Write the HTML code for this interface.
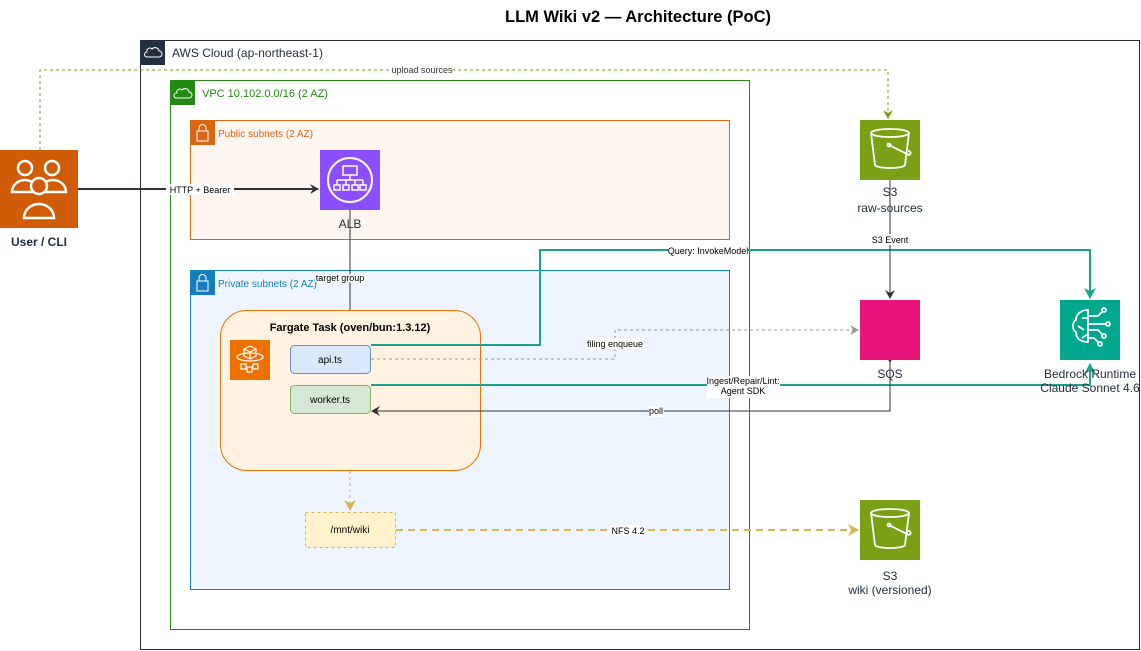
<!DOCTYPE html>
<html><head><meta charset="utf-8"><style>
body{margin:0;background:#fff}
svg{display:block;font-family:"Liberation Sans",Arial,sans-serif}
</style></head><body>
<svg width="1141" height="651" viewBox="0 0 1141 651" xmlns="http://www.w3.org/2000/svg">
<defs>
<marker id="ak" markerWidth="10" markerHeight="10" refX="8" refY="5" orient="auto" markerUnits="userSpaceOnUse"><path d="M0,0 L9,5 L0,10 L3,5Z" fill="#333"/></marker>
<marker id="at" markerWidth="12" markerHeight="12" refX="10" refY="6" orient="auto" markerUnits="userSpaceOnUse"><path d="M0,0 L11,6 L0,12 L3,6Z" fill="#1ba28f"/></marker>
<marker id="ag" markerWidth="10" markerHeight="10" refX="8" refY="5" orient="auto" markerUnits="userSpaceOnUse"><path d="M0,0 L9,5 L0,10 L3,5Z" fill="#999"/></marker>
<marker id="ao" markerWidth="10" markerHeight="10" refX="8" refY="5" orient="auto" markerUnits="userSpaceOnUse"><path d="M0,0 L9,5 L0,10 L3,5Z" fill="#7aa116"/></marker>
<marker id="ay" markerWidth="12" markerHeight="12" refX="10" refY="6" orient="auto" markerUnits="userSpaceOnUse"><path d="M0,0 L11,6 L0,12 L3,6Z" fill="#d6b656"/></marker>
</defs>
<text x="638" y="22" text-anchor="middle" font-size="16.5" font-weight="bold" fill="#000">LLM Wiki v2 — Architecture (PoC)</text>

<rect x="140.5" y="40.5" width="999" height="609" fill="#fff" stroke="#232f3e"/>
<rect x="140" y="40" width="25" height="25" fill="#232f3e"/>
<path d="M147,57 h12 a3,3 0 0 0 0,-6 a4,4 0 0 0 -7,-2 a3,3 0 0 0 -5,3 a2,2 0 0 0 0,5z" fill="none" stroke="#fff" stroke-width="1"/>
<text x="172" y="57" font-size="12" fill="#232f3e">AWS Cloud (ap-northeast-1)</text>

<rect x="170.5" y="80.5" width="579" height="549" fill="none" stroke="#248814"/>
<rect x="170" y="80" width="25" height="25" fill="#248814"/>
<path d="M176,98 h13 a3,3 0 0 0 0,-6 a4,4 0 0 0 -7,-2 a3,3 0 0 0 -5,3 a2.5,2.5 0 0 0 -1,5z" fill="none" stroke="#fff"/>
<text x="202" y="97" font-size="11" fill="#248814">VPC 10.102.0.0/16 (2 AZ)</text>

<rect x="190.5" y="120.5" width="539" height="119" fill="#fdf5ef" stroke="#d86613"/>
<rect x="190" y="120" width="25" height="25" fill="#d86613"/>
<rect x="197" y="131" width="11" height="10" fill="none" stroke="#fff"/><path d="M199,131 v-3 a3.5,3.5 0 0 1 7,0 v3" fill="none" stroke="#fff"/>
<text x="218" y="137" font-size="10" fill="#d86613">Public subnets (2 AZ)</text>

<rect x="190.5" y="270.5" width="539" height="319" fill="#eef5fe" stroke="#147eba"/>
<rect x="190" y="270" width="25" height="25" fill="#147eba"/>
<rect x="197" y="281" width="11" height="10" fill="none" stroke="#fff"/><path d="M199,281 v-3 a3.5,3.5 0 0 1 7,0 v3" fill="none" stroke="#fff"/>
<text x="218" y="287" font-size="10" fill="#147eba">Private subnets (2 AZ)</text>

<path d="M40,150 V70 H888 V118" fill="none" stroke="#7aa116" stroke-dasharray="3,3" marker-end="url(#ao)"/>
<rect x="392" y="64" width="60" height="11" fill="#fff"/>
<text x="422" y="73" text-anchor="middle" font-size="9" fill="#333">upload sources</text>

<rect x="0" y="150" width="78" height="78" fill="#d05c07"/>
<g fill="#d05c07" stroke="#fff" stroke-width="2.5">
<circle cx="25" cy="168" r="7"/><path d="M12,192 a13,12 0 0 1 26,0 z"/>
<circle cx="52" cy="168" r="7"/><path d="M40,192 a13,12 0 0 1 26,0 z"/>
<circle cx="39" cy="186" r="8"/><path d="M24,218 a15,14 0 0 1 30,0 z"/>
</g>
<text x="39" y="246" text-anchor="middle" font-size="12" font-weight="bold" fill="#232f3e">User / CLI</text>

<line x1="78" y1="189" x2="318" y2="189" stroke="#333" stroke-width="2" marker-end="url(#ak)"/>
<rect x="166" y="184" width="68" height="11" fill="#fff"/>
<text x="200" y="193" text-anchor="middle" font-size="9" fill="#000">HTTP + Bearer</text>

<rect x="320" y="150" width="60" height="60" fill="#8c4fff"/>
<circle cx="350" cy="180" r="22" fill="none" stroke="#fff" stroke-width="2"/>
<g fill="none" stroke="#fff" stroke-width="1.5"><rect x="343" y="166" width="14" height="9"/><path d="M350,175 v5 M337,180 h26 M337,180 v5 M346,180 v5 M355,180 v5 M363,180 v5"/><rect x="334" y="185" width="6" height="5"/><rect x="343" y="185" width="6" height="5"/><rect x="352" y="185" width="6" height="5"/><rect x="360" y="185" width="6" height="5"/></g>
<text x="350" y="228" text-anchor="middle" font-size="12" fill="#232f3e">ALB</text>

<line x1="350" y1="210" x2="350" y2="343" stroke="#333" marker-end="url(#ak)"/>

<rect x="220.5" y="310.5" width="260" height="160" rx="26" fill="#fff2e0" stroke="#ed7100"/>
<text x="350" y="331" text-anchor="middle" font-size="11" font-weight="bold" fill="#000">Fargate Task (oven/bun:1.3.12)</text>
<rect x="230" y="340" width="40" height="40" fill="#ed7100"/>
<g fill="none" stroke="#fff" stroke-width="1.2"><path d="M244,349 l6,-3 l6,3 v7 l-6,3 l-6,-3z M244,349 l6,3 l6,-3 M250,352 v7"/><ellipse cx="250" cy="357" rx="13" ry="4"/><rect x="241" y="364" width="5" height="5"/><rect x="247" y="367" width="5" height="5"/><rect x="253" y="364" width="5" height="5"/></g>
<text x="340" y="281" text-anchor="middle" font-size="9" fill="#000" style="paint-order:stroke" stroke="#fff" stroke-width="3">target group</text>

<rect x="290.5" y="345.5" width="80" height="28" rx="4" fill="#dae8fc" stroke="#6c8ebf"/>
<text x="330" y="363" text-anchor="middle" font-size="10" fill="#000">api.ts</text>
<rect x="290.5" y="385.5" width="80" height="28" rx="4" fill="#d5e8d4" stroke="#82b366"/>
<text x="330" y="403" text-anchor="middle" font-size="10" fill="#000">worker.ts</text>

<path d="M371,345 H540 V250 H1090 V298" fill="none" stroke="#1ba28f" stroke-width="2" marker-end="url(#at)"/>
<rect x="668" y="245" width="80" height="11" fill="#fff"/>
<text x="708" y="254" text-anchor="middle" font-size="9" fill="#000">Query: InvokeModel</text>

<path d="M371,359 H615 V330 H858" fill="none" stroke="#999" stroke-dasharray="3,3" marker-end="url(#ag)"/>
<rect x="586" y="338" width="58" height="11" fill="#fff"/>
<text x="615" y="347" text-anchor="middle" font-size="9" fill="#000">filing enqueue</text>

<path d="M371,385 H1090 V364" fill="none" stroke="#1ba28f" stroke-width="2" marker-end="url(#at)"/>
<rect x="707" y="376" width="73" height="22" fill="#fff"/>
<text x="743" y="384" text-anchor="middle" font-size="9" fill="#000">Ingest/Repair/Lint:</text>
<text x="743" y="394" text-anchor="middle" font-size="9" fill="#000">Agent SDK</text>

<path d="M890,362 V411 H372" fill="none" stroke="#333" marker-end="url(#ak)" marker-start="url(#ak)"/>
<rect x="649" y="406" width="15" height="11" fill="#fff"/>
<text x="656" y="414" text-anchor="middle" font-size="9" fill="#000">poll</text>

<line x1="890" y1="180" x2="890" y2="298" stroke="#333" marker-end="url(#ak)"/>
<rect x="868" y="234" width="44" height="11" fill="#fff"/>
<text x="890" y="243" text-anchor="middle" font-size="9" fill="#000">S3 Event</text>

<rect x="860" y="120" width="60" height="60" fill="#7aa116"/>
<g fill="none" stroke="#fff" stroke-width="1.8"><ellipse cx="890" cy="133" rx="19" ry="4"/><path d="M871,133 l4,32 a15,3 0 0 0 30,0 l4,-32"/><circle cx="889" cy="145" r="1.5"/><path d="M889,145 l20,10 a2,2 0 0 0 -1,-4"/></g>
<text x="890" y="196" text-anchor="middle" font-size="12" fill="#232f3e">S3</text>
<text x="890" y="212" text-anchor="middle" font-size="12" fill="#232f3e">raw-sources</text>

<rect x="860" y="300" width="60" height="60" fill="#e7157b"/>
<text x="890" y="378" text-anchor="middle" font-size="12" fill="#232f3e">SQS</text>

<rect x="1060" y="300" width="60" height="60" fill="#01a88d"/>
<g fill="none" stroke="#fff" stroke-width="1.8"><path d="M1088,310 c-8,0 -12,5 -12,10 c-4,2 -4,10 0,12 c0,6 4,10 12,10 z M1082,318 h6 M1078,326 l6,4 M1082,338 l6,-4"/><path d="M1088,316 h10 l4,-4 M1088,324 h18 M1088,330 h10 l4,4 M1088,338 h6 l4,4"/><circle cx="1104" cy="310" r="2"/><circle cx="1108" cy="324" r="2"/><circle cx="1104" cy="336" r="2"/><circle cx="1100" cy="344" r="2"/></g>
<text x="1090" y="378" text-anchor="middle" font-size="12" fill="#232f3e">Bedrock Runtime</text>
<text x="1090" y="392" text-anchor="middle" font-size="12" fill="#232f3e">Claude Sonnet 4.6</text>

<line x1="350" y1="471" x2="350" y2="510" stroke="#d6b656" stroke-dasharray="3,3" marker-end="url(#ay)"/>
<rect x="305.5" y="512.5" width="90" height="35" fill="#fff2cc" stroke="#d6b656" stroke-dasharray="3,3"/>
<text x="350" y="533" text-anchor="middle" font-size="10" fill="#000">/mnt/wiki</text>
<line x1="396" y1="530" x2="858" y2="530" stroke="#d6b656" stroke-width="2" stroke-dasharray="7,5" marker-end="url(#ay)"/>
<rect x="610" y="525" width="36" height="11" fill="#fff"/>
<text x="628" y="534" text-anchor="middle" font-size="9" fill="#000">NFS 4.2</text>

<rect x="860" y="500" width="60" height="60" fill="#7aa116"/>
<g fill="none" stroke="#fff" stroke-width="1.8"><ellipse cx="890" cy="513" rx="19" ry="4"/><path d="M871,513 l4,32 a15,3 0 0 0 30,0 l4,-32"/><circle cx="889" cy="525" r="1.5"/><path d="M889,525 l20,10 a2,2 0 0 0 -1,-4"/></g>
<text x="890" y="580" text-anchor="middle" font-size="12" fill="#232f3e">S3</text>
<text x="890" y="594" text-anchor="middle" font-size="12" fill="#232f3e">wiki (versioned)</text>
</svg>
</body></html>
